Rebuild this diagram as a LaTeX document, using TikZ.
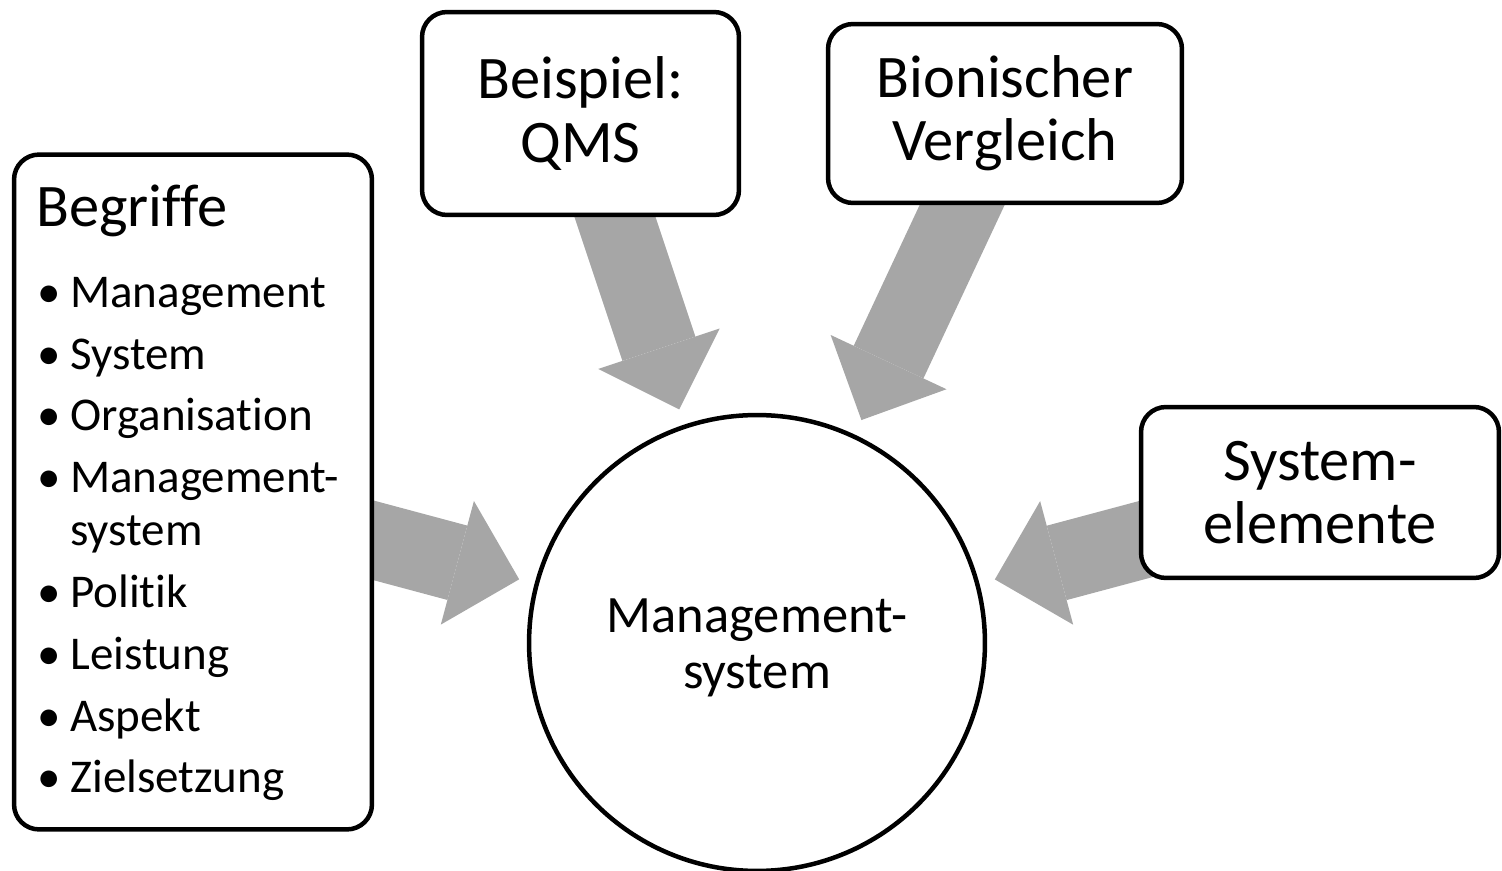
\documentclass[tikz,border=0pt]{standalone}
\usepackage{fontspec}
\setmainfont{Carlito}[RawFeature={-liga;-clig;-calt;-dlig}]
\usetikzlibrary{arrows.meta,backgrounds}
\definecolor{arrgray}{HTML}{A6A6A6}
\tikzset{
  rbox/.style={draw, rectangle, rounded corners=0.5cm, line width=0.09cm, fill=white, align=center, inner sep=0pt, font=\fontsize{34.4pt}{35.9pt}\selectfont},
  cbox/.style={draw, circle, line width=0.09cm, fill=white, minimum size=9.12cm, align=center, inner sep=0pt, font=\fontsize{29.9pt}{31.9pt}\selectfont},
  headtxt/.style={anchor=base west, inner sep=0pt, font=\fontsize{34.4pt}{35.9pt}\selectfont},
  itemtxt/.style={anchor=base west, inner sep=0pt, font=\fontsize{26.75pt}{29.6pt}\selectfont},
  bigarr/.style={draw=arrgray, line width=1.54cm, -{Triangle[length=1.28cm, width=2.56cm, line width=0pt]}, shorten >=0.32cm},
}

\begin{document}
\begin{tikzpicture}[x=0.02cm, y=-0.02cm]
\useasboundingbox (0,0) rectangle (1502,871);

\node[rbox, minimum width=7.16cm, minimum height=13.5cm] (begr) at (193,492) {};
\node[rbox, minimum width=6.34cm, minimum height=4.06cm] (qms) at (580.5,113.5) {Beispiel:\\QMS};
\node[rbox, minimum width=7.08cm, minimum height=3.58cm] (bion) at (1005,113.5) {Bionischer\\Vergleich};
\node[rbox, minimum width=7.16cm, minimum height=3.42cm] (sys) at (1320,492.5) {System-\\elemente};
\node[cbox] (circ) at (757,643) {\rule{0pt}{0.86cm}Management-\\system};

% Begriffe list
\node[headtxt] (head) at (36,227) {Begriffe};
\foreach \y/\txt [count=\i] in {308/Management, 370/System, 431/Organisation, 493/Management-, 607/Politik, 669/Leistung, 731/Aspekt, 792/Zielsetzung}
  \node[itemtxt] (item\i) at (37,\y) {\makebox[0.66cm][l]{\textbullet}\txt};
\node[itemtxt] (item4b) at (70,545) {system};

% arrows behind the boxes
\begin{pgfonlayer}{background}
\draw[bigarr] (begr.center) -- (circ);
\draw[bigarr] (qms.center) -- (circ);
\draw[bigarr] (bion.center) -- (circ);
\draw[bigarr] (sys.center) -- (circ);
\end{pgfonlayer}

\end{tikzpicture}
\end{document}
